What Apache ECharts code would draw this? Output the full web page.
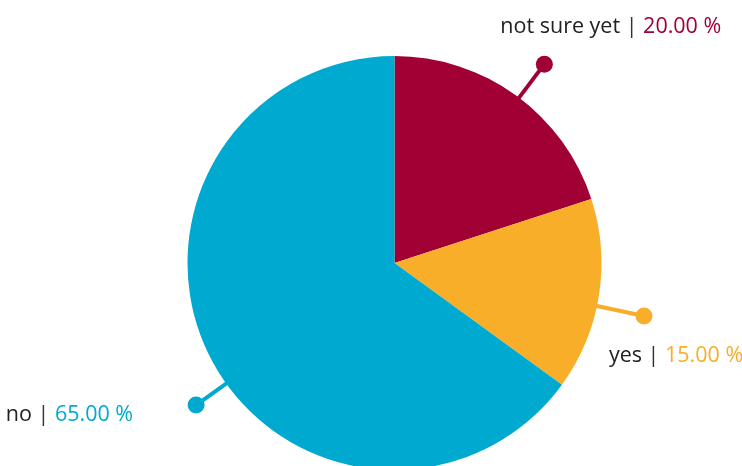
<!DOCTYPE html>
<html>
<head>
<meta charset="utf-8">
<script src="https://cdn.jsdelivr.net/npm/echarts@6/dist/echarts.min.js"></script>
<style>
  html, body { margin: 0; padding: 0; background: #fff; }
  #chart { width: 742px; height: 466px; }
</style>
</head>
<body>
<div id="chart"></div>
<script>
const categories = ['not sure yet', 'yes', 'no']
const values = [20, 15, 65]
const colors = ['#a00034', '#f8ae29', '#00a9d0']

// layout of the pie and its callouts
const center = [394.5, 263]
const radius = 207
const dotDistance = [249, 255, 244]
const angleNudge = [-1, -3, 8.6]
const textOffsets = [
  { dx: -44, dy: -37, align: 'left' },
  { dx: -35, dy: 40, align: 'left' },
  { dx: -63, dy: 10, align: 'right' }
]
const fontFamily = 'Open Sans'
const fontSize = 21.5

const total = values.reduce((a, b) => a + b, 0)

// point at distance r from the centre, on the (nudged) middle angle of slice i
function calloutPoint(i, r) {
  let before = 0
  for (let k = 0; k < i; k++) before += values[k]
  const deg = 90 - 360 * (before + values[i] / 2) / total + angleNudge[i]
  const rad = deg * Math.PI / 180
  return [center[0] + r * Math.cos(rad), center[1] - r * Math.sin(rad)]
}

const rich = {
  n: { color: '#222', fontSize: fontSize, fontFamily: fontFamily },
  s: { color: '#333', fontSize: fontSize, fontFamily: fontFamily }
}
colors.forEach((c, i) => {
  rich['v' + i] = { color: c, fontSize: fontSize, fontFamily: fontFamily }
})

const chart = echarts.init(document.getElementById('chart'))

const option = {
  animation: false,
  series: [
    {
      type: 'pie',
      center: center,
      radius: radius,
      startAngle: 90,
      clockwise: true,
      avoidLabelOverlap: false,
      emphasis: { scale: false },
      data: categories.map((name, i) => ({
        name: name,
        value: values[i],
        itemStyle: { color: colors[i] }
      })),
      label: {
        show: true,
        position: 'outside',
        color: '#222',
        fontSize: fontSize,
        fontFamily: fontFamily,
        formatter: p => `{n|${p.name}} {s||} {v${p.dataIndex}|${p.percent.toFixed(2)} %}`,
        rich: rich
      },
      labelLine: {
        show: true,
        smooth: false,
        lineStyle: { width: 4 }
      },
      labelLayout: p => {
        const i = p.dataIndex
        const dot = calloutPoint(i, dotDistance[i])
        const inner = calloutPoint(i, radius - 30)
        const o = textOffsets[i]
        return {
          x: dot[0] + o.dx,
          y: dot[1] + o.dy,
          align: o.align,
          verticalAlign: 'middle',
          labelLinePoints: [inner, dot, dot]
        }
      }
    },
    {
      // invisible copy of the pie, only used to put a dot at the end of each callout
      type: 'pie',
      center: center,
      radius: radius,
      startAngle: 90,
      clockwise: true,
      silent: true,
      avoidLabelOverlap: false,
      emphasis: { disabled: true },
      data: categories.map((name, i) => ({
        name: name,
        value: values[i],
        itemStyle: { color: 'rgba(0,0,0,0)' },
        label: { backgroundColor: colors[i] }
      })),
      label: {
        show: true,
        position: 'outside',
        formatter: ' ',
        fontSize: 4,
        width: 17,
        height: 17,
        padding: 0,
        borderRadius: 8.5
      },
      labelLine: { show: false },
      labelLayout: p => {
        const i = p.dataIndex
        const dot = calloutPoint(i, dotDistance[i])
        return { x: dot[0], y: dot[1], align: 'center', verticalAlign: 'middle' }
      }
    }
  ]
}

chart.setOption(option)
</script>
</body>
</html>
